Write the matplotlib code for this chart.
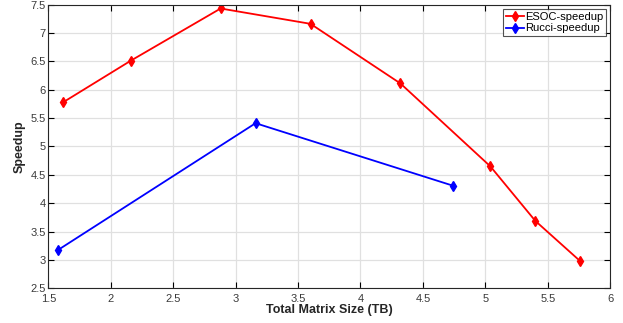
import matplotlib
matplotlib.use('Agg')
import matplotlib.pyplot as plt

# data
esoc_size = [1.62, 2.16, 2.88, 3.60, 4.32, 5.04, 5.40, 5.76]
esoc_speedup = [5.78, 6.51, 7.43, 7.16, 6.11, 4.65, 3.69, 2.98]
rucci_size = [1.58, 3.16, 4.74]
rucci_speedup = [3.18, 5.41, 4.31]

plt.rcParams['font.family'] = ['Liberation Sans', 'DejaVu Sans']

fig = plt.figure(figsize=(6.23, 3.23), dpi=100)
ax = fig.add_axes([0.0775, 0.107, 0.902, 0.879])

ax.plot(esoc_size, esoc_speedup, color='red', marker='d', markersize=5, lw=1.3, label='ESOC-speedup')
ax.plot(rucci_size, rucci_speedup, color='blue', marker='d', markersize=5, lw=1.3, label='Rucci-speedup')

ax.set_xlim(1.5, 6)
ax.set_ylim(2.5, 7.5)
ax.set_xticks([1.5, 2, 2.5, 3, 3.5, 4, 4.5, 5, 5.5, 6])
ax.set_xticklabels(['1.5', '2', '2.5', '3', '3.5', '4', '4.5', '5', '5.5', '6'])
ax.set_yticks([2.5, 3, 3.5, 4, 4.5, 5, 5.5, 6, 6.5, 7, 7.5])
ax.set_yticklabels(['2.5', '3', '3.5', '4', '4.5', '5', '5.5', '6', '6.5', '7', '7.5'])
ax.grid(True, color='#e0e0e0', lw=0.9)
ax.set_axisbelow(True)
ax.tick_params(direction='in', top=True, right=True, length=4, width=0.8,
               labelsize=8, labelcolor='#3a3a3a', pad=2)
ax.tick_params(axis='x', pad=4)
for s in ax.spines.values():
    s.set_color('#262626')
    s.set_linewidth(0.8)

ax.set_xlabel('Total Matrix Size (TB)', fontsize=9, fontweight='bold', color='#262626', labelpad=0)
ax.set_ylabel('Speedup', fontsize=9, fontweight='bold', color='#262626', labelpad=3)

leg = ax.legend(loc='upper right', fontsize=8, frameon=True, fancybox=False,
                edgecolor='#262626', handlelength=1.6, handletextpad=0.1,
                borderpad=0.25, labelspacing=0.15, borderaxespad=0.4)
leg.get_frame().set_linewidth(0.8)

fig.savefig('out.png', dpi=100)
